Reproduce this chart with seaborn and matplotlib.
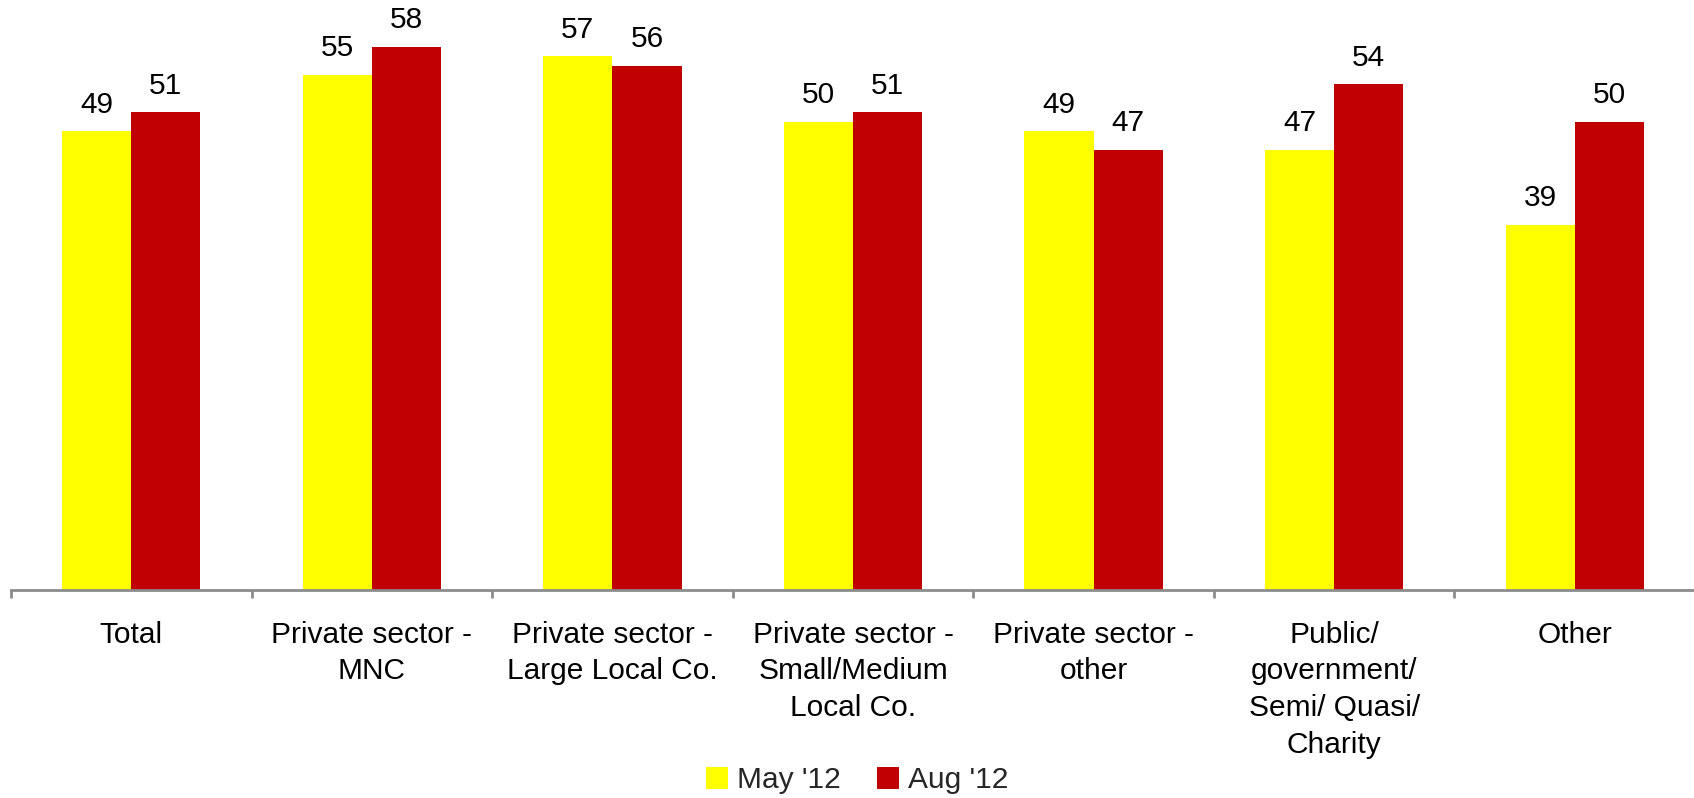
import matplotlib
matplotlib.use("Agg")
import matplotlib.pyplot as plt
import seaborn as sns
import pandas as pd
import numpy as np
from matplotlib.ticker import FixedLocator

categories = [
    "Total",
    "Private sector -\nMNC",
    "Private sector -\nLarge Local Co.",
    "Private sector -\nSmall/Medium\nLocal Co.",
    "Private sector -\nother",
    "Public/\ngovernment/\nSemi/ Quasi/\nCharity",
    "Other",
]
series_names = ["May '12", "Aug '12"]
may_values = [49, 55, 57, 50, 49, 47, 39]
aug_values = [51, 58, 56, 51, 47, 54, 50]

colors = ["#FFFF00", "#C00000"]

df = pd.DataFrame({
    "category": categories * 2,
    "period": [series_names[0]] * len(categories) + [series_names[1]] * len(categories),
    "value": may_values + aug_values,
})

sns.set_theme(style="white")
plt.rcParams["font.family"] = ["Liberation Sans", "DejaVu Sans"]

W, H = 1694, 798
fig = plt.figure(figsize=(W / 100, H / 100), dpi=100)
ax = fig.add_axes([11 / W, (H - 590) / H, (1695 - 11) / W, 590 / H])

sns.barplot(
    data=df, x="category", y="value", hue="period",
    palette=colors, width=0.575, gap=0, saturation=1,
    linewidth=0, ax=ax, legend=False,
)

ax.set_ylim(0, 63)
ax.set_xlim(-0.5, len(categories) - 0.5)
ax.set_xlabel("")
ax.set_ylabel("")
ax.set_yticks([])

for cont in ax.containers:
    ax.bar_label(cont, fmt="%d", padding=9, fontsize=21.5, color="black")

for side in ["top", "right", "left"]:
    ax.spines[side].set_visible(False)
ax.spines["bottom"].set_color("#8C8C8C")
ax.spines["bottom"].set_linewidth(2)

ax.set_xticks(range(len(categories)))
ax.set_xticklabels(categories, fontsize=21.5, color="black", linespacing=1.4)
ax.tick_params(axis="x", which="major", length=0, pad=22)
ax.xaxis.set_minor_locator(FixedLocator(np.arange(-0.5, len(categories), 1.0)))
ax.tick_params(axis="x", which="minor", bottom=True, length=6, width=2, color="#8C8C8C")

handles = [plt.Rectangle((0, 0), 1, 1, facecolor=c, edgecolor="none") for c in colors]
fig.legend(
    handles, series_names, loc="center", bbox_to_anchor=(857 / W, 1 - 780 / H),
    ncol=2, frameon=False, fontsize=21.5, handlelength=0.75, handleheight=0.75,
    handletextpad=0.3, columnspacing=1.2,
)

fig.savefig("out.png", dpi=100)
